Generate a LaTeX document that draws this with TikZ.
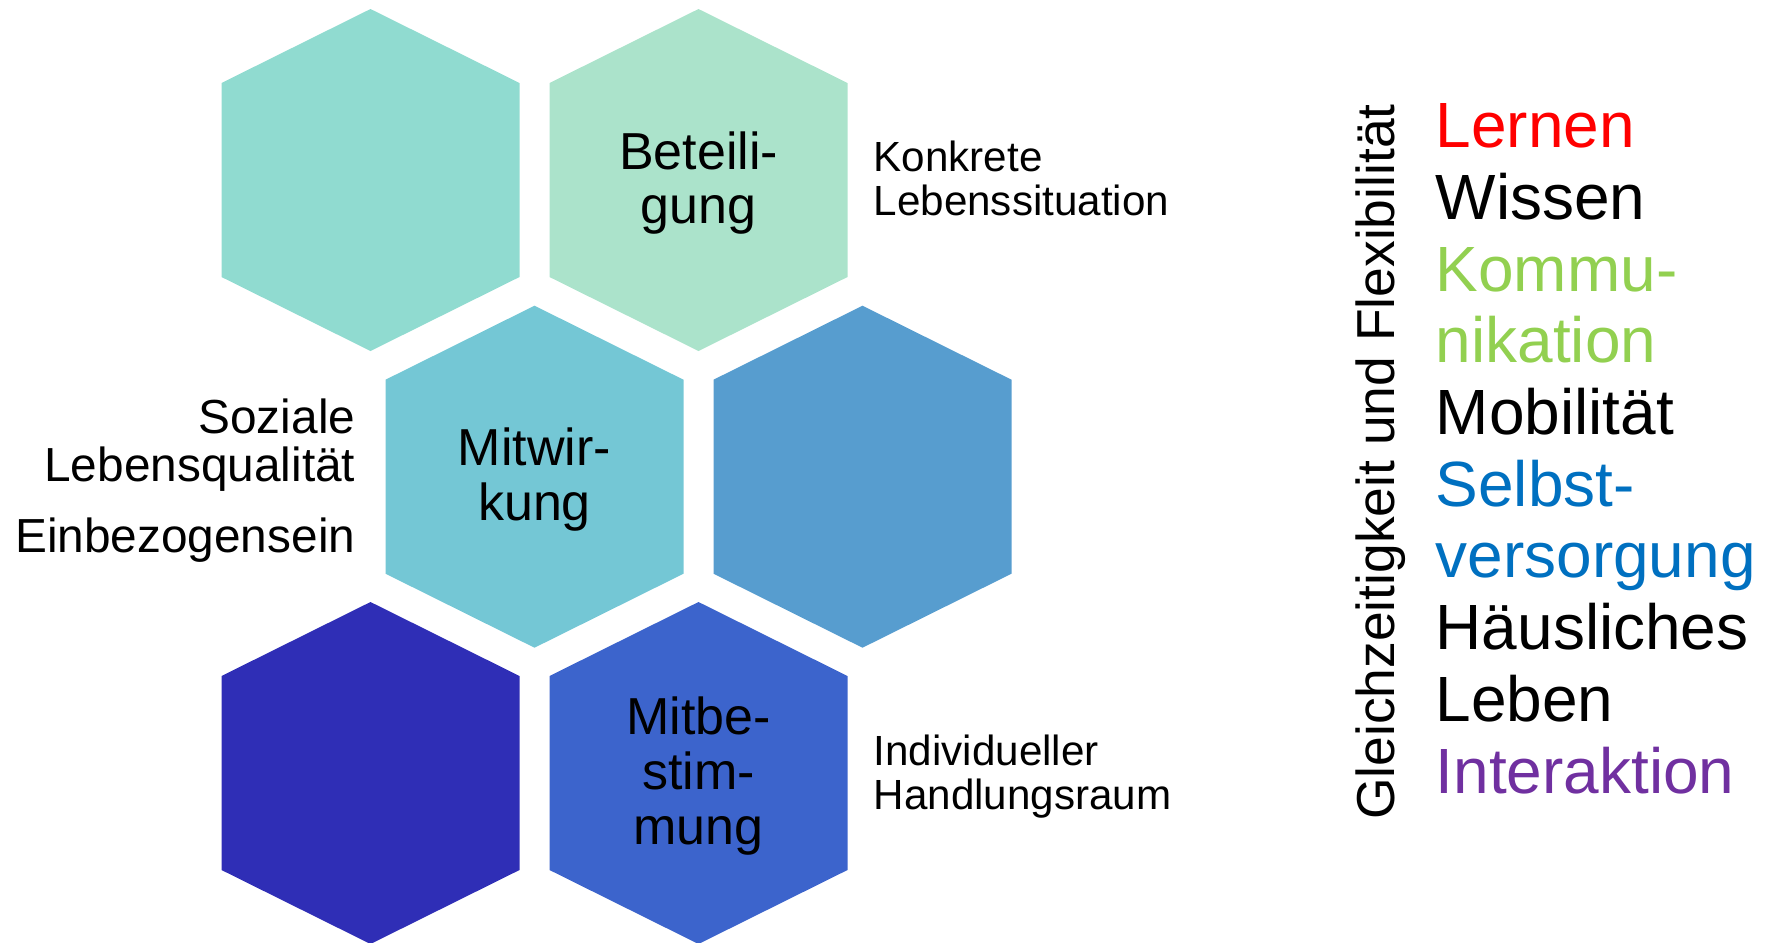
\documentclass[tikz,border=0pt]{standalone}
\usepackage{fontspec}
\setmainfont{Liberation Sans}
\usetikzlibrary{calc}
\definecolor{hexA}{HTML}{90DBD0}
\definecolor{hexB}{HTML}{ABE3CB}
\definecolor{hexC}{HTML}{74C7D5}
\definecolor{hexD}{HTML}{579DCF}
\definecolor{hexE}{HTML}{2F2EB6}
\definecolor{hexF}{HTML}{3C64CC}
\definecolor{lred}{HTML}{FF0000}
\definecolor{lgreen}{HTML}{92D050}
\definecolor{lblue}{HTML}{0070C0}
\definecolor{lpurple}{HTML}{7030A0}
\tikzset{hextext/.style={align=center,inner sep=0pt,yshift=-0.3mm,font=\fontsize{14.8}{15.6}\selectfont},sidelabel/.style={align=left,inner sep=0pt,anchor=north west,font=\fontsize{12}{12.5}\selectfont},leftlabel/.style={align=right,inner sep=0pt,anchor=north east,font=\fontsize{13.6}{13.6}\selectfont},listlabel/.style={align=left,inner sep=0pt,anchor=north west,font=\fontsize{18.2}{20.4}\selectfont},rotlabel/.style={rotate=90,anchor=base,inner sep=0pt,font=\fontsize{15.2}{18}\selectfont}}

\begin{document}
\begin{tikzpicture}[x=0.1mm,y=-0.1mm]
\useasboundingbox (0,0) rectangle (1773,942);
\clip (0,0) rectangle (1773,942);
\foreach \n/\p/\c in {h1/{370.5,180}/hexA,h2/{698.5,180}/hexB,h3/{534.5,476.7}/hexC,h4/{862.5,476.7}/hexD,h5/{370.5,773}/hexE,h6/{698.5,773}/hexF}{
  \coordinate (\n) at (\p);
  \fill[\c] ($(\n)+(0,-171)$) -- ++(149,74) -- ++(0,194) -- ++(-149,74) -- ++(-149,-74) -- ++(0,-194) -- cycle;
}
\node[hextext] (bet) at (h2){Beteili-\\gung};
\node[hextext] (mit) at (h3){Mitwir-\\kung};
\node[hextext] (mbs) at (h6){Mitbe-\\stim-\\mung};
\node[sidelabel] (kon) at (873,140){Konkrete\\Lebenssituation};
\node[sidelabel] (ind) at (873,734){Individueller\\Handlungsraum};
\node[leftlabel] (soz) at (356,398){Soziale\\Lebensqualität};
\node[leftlabel] (ein) at (356,517){Einbezogensein};
\node[rotlabel] (gf) at (1394,462){Gleichzeitigkeit und Flexibilität};
\node[listlabel] (dom) at (1435,103){{\color{lred}Lernen}\\Wissen\\{\color{lgreen}Kommu-}\\{\color{lgreen}nikation}\\Mobilität\\{\color{lblue}Selbst-}\\{\color{lblue}versorgung}\\Häusliches\\Leben\\{\color{lpurple}Interaktion}};
\end{tikzpicture}
\end{document}
